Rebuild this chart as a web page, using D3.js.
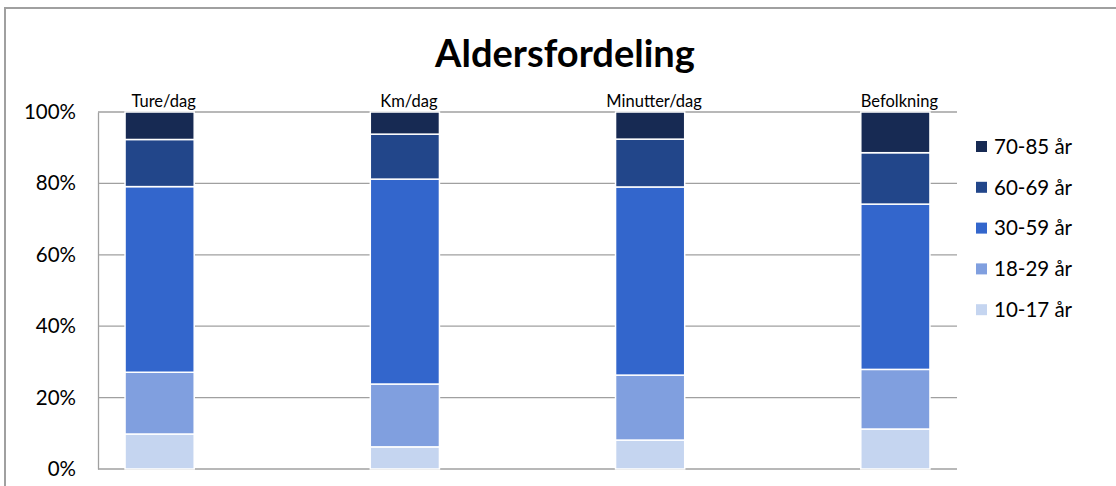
<!DOCTYPE html>
<html>
<head>
<meta charset="utf-8">
<script src="https://cdn.jsdelivr.net/npm/d3@7"></script>
<style>
  body { margin: 0; background: #fff; }
  svg { display: block; font-family: Lato, "Open Sans", sans-serif; }
</style>
</head>
<body>
<div id="chart"></div>
<script>
// categories (measures) and age groups, bottom to top
var categories = ["Ture/dag", "Km/dag", "Minutter/dag", "Befolkning"];
var groups = ["10-17 år", "18-29 år", "30-59 år", "60-69 år", "70-85 år"];
// share in % per age group, one array per group, in category order
var g1017 = [9.8, 6.2, 8.1, 11.2];
var g1829 = [17.3, 17.6, 18.2, 16.7];
var g3059 = [52.0, 57.4, 52.7, 46.3];
var g6069 = [13.2, 12.6, 13.4, 14.4];
var g7085 = [7.7, 6.2, 7.6, 11.4];
var yTicks = [0, 20, 40, 60, 80, 100];
var colors = ["#c5d5f0", "#809fdf", "#3366cc", "#22468a", "#172a53"];

var width = 1116, height = 486;
var plotLeft = 98, plotRight = 957, plotTop = 112, plotBottom = 469;

var series = [g1017, g1829, g3059, g6069, g7085];
var rows = categories.map(function (c, i) {
    var r = { cat: c };
    groups.forEach(function (g, j) { r[g] = series[j][i]; });
    return r;
});

var stacked = d3.stack().keys(groups).offset(d3.stackOffsetExpand)(rows);

var x = d3.scaleBand().domain(categories).range([37, 1018])
    .paddingInner(0.718).paddingOuter(0.359);
var y = d3.scaleLinear().domain([0, 1]).range([plotBottom, plotTop]);
var color = d3.scaleOrdinal().domain(groups).range(colors);

var svg = d3.select("#chart").append("svg")
    .attr("width", width)
    .attr("height", height);

// outer chart border (top and left visible)
svg.append("path")
    .attr("d", "M5,486V8H1116")
    .attr("fill", "none")
    .attr("stroke", "#a0a0a0")
    .attr("stroke-width", 2);

// title
var title = svg.append("text")
    .attr("x", 565)
    .attr("y", 67)
    .attr("text-anchor", "middle")
    .attr("font-weight", "bold")
    .attr("font-size", 36)
    .attr("fill", "#000")
    .text("Aldersfordeling");
var tw = title.node().getComputedTextLength();
title.attr("font-size", 36 * 260 / tw);

// gridlines
svg.append("g").selectAll("line")
    .data(yTicks)
    .enter().append("line")
    .attr("x1", plotLeft).attr("x2", plotRight)
    .attr("y1", function (d) { return y(d / 100); })
    .attr("y2", function (d) { return y(d / 100); })
    .attr("stroke", "#a0a0a0")
    .attr("stroke-width", 1.3);

// y axis
var yAxis = svg.append("g")
    .attr("transform", "translate(" + plotLeft + ",0)")
    .call(d3.axisLeft(y).tickValues(yTicks.map(function (d) { return d / 100; }))
        .tickFormat(d3.format(".0%")).tickSize(0).tickPadding(22));
yAxis.select(".domain").attr("stroke", "#a0a0a0").attr("stroke-width", 1.3);
yAxis.selectAll("text")
    .attr("font-family", "Lato, 'Open Sans', sans-serif")
    .attr("font-size", 20.5)
    .attr("fill", "#000");

// bars
svg.append("g").selectAll("g")
    .data(stacked)
    .enter().append("g")
    .attr("fill", function (d) { return color(d.key); })
    .selectAll("rect")
    .data(function (d) { return d; })
    .enter().append("rect")
    .attr("x", function (d) { return x(d.data.cat); })
    .attr("width", x.bandwidth())
    .attr("y", function (d) { return y(d[1]); })
    .attr("height", function (d) { return y(d[0]) - y(d[1]); })
    .attr("stroke", "#fff")
    .attr("stroke-width", 1.5);

// category labels above bars
svg.append("g").selectAll("text")
    .data(categories)
    .enter().append("text")
    .attr("x", function (d) { return x(d) + x.bandwidth() / 2 + 4; })
    .attr("y", 107)
    .attr("text-anchor", "middle")
    .attr("font-size", 16.5)
    .attr("fill", "#000")
    .text(function (d) { return d; });

// legend, top to bottom
var legend = svg.append("g").selectAll("g")
    .data(groups.slice().reverse())
    .enter().append("g")
    .attr("transform", function (d, i) { return "translate(976," + (146.5 + i * 40.8) + ")"; });
legend.append("rect")
    .attr("x", 0).attr("y", -5.5)
    .attr("width", 11).attr("height", 11)
    .attr("fill", function (d) { return color(d); });
legend.append("text")
    .attr("x", 18)
    .attr("dy", "0.36em")
    .attr("font-size", 20.5)
    .attr("fill", "#000")
    .text(function (d) { return d; });
</script>
</body>
</html>
